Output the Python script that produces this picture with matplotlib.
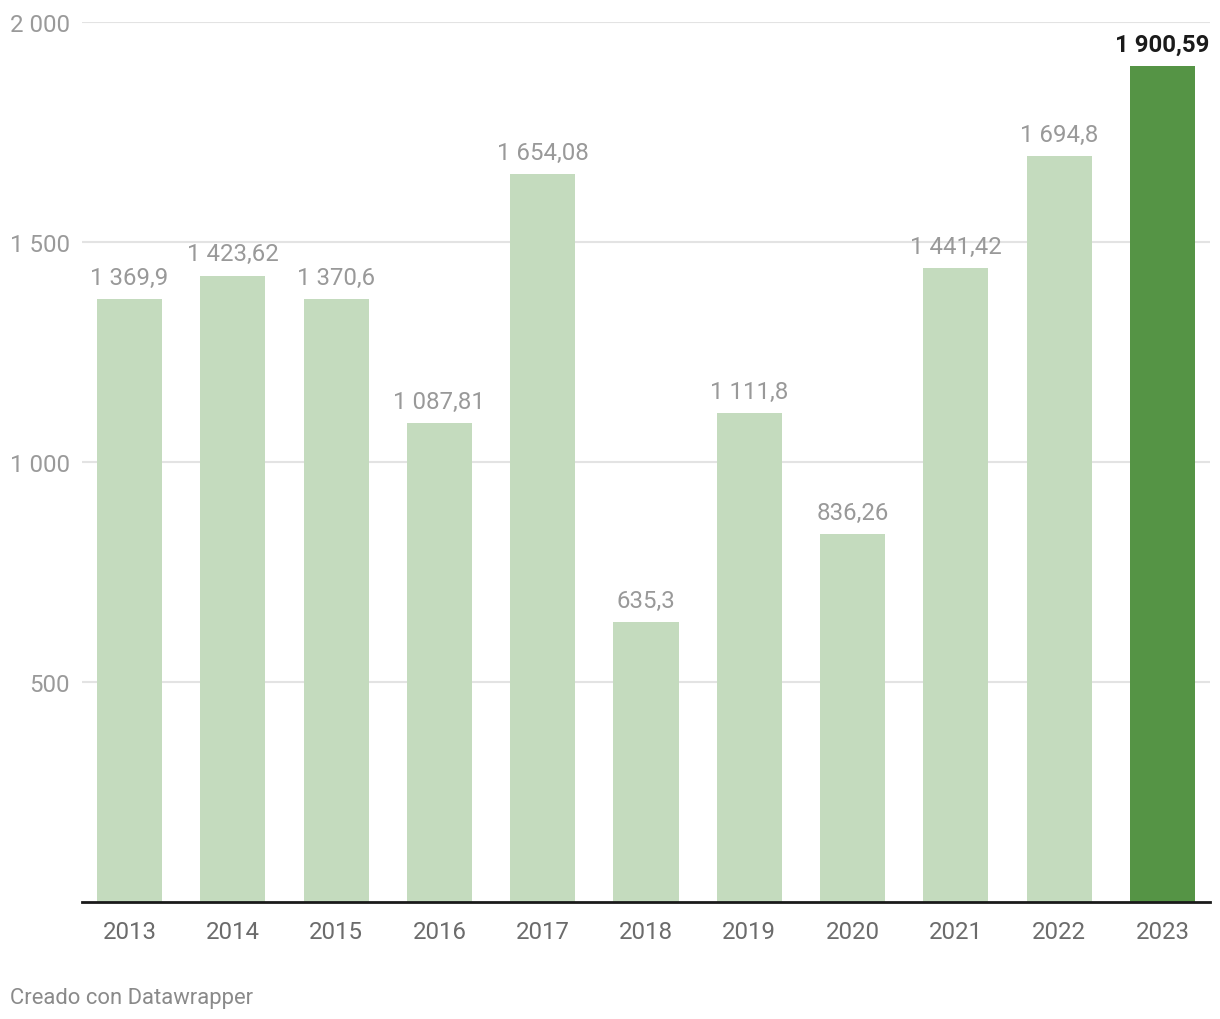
import matplotlib.pyplot as plt
from matplotlib.ticker import FuncFormatter

plt.rcParams['font.family'] = ['Roboto', 'DejaVu Sans']

years = ['2013', '2014', '2015', '2016', '2017', '2018', '2019', '2020', '2021', '2022', '2023']
values = [1369.9, 1423.62, 1370.6, 1087.81, 1654.08, 635.3, 1111.8, 836.26, 1441.42, 1694.8, 1900.59]
labels = ['1 369,9', '1 423,62', '1 370,6', '1 087,81', '1 654,08', '635,3',
          '1 111,8', '836,26', '1 441,42', '1 694,8', '1 900,59']
yticks = [500, 1000, 1500, 2000]

light = '#c4dbbe'
dark = '#559445'

fig = plt.figure(figsize=(12.2, 10.2), dpi=100)
ax = fig.add_axes([82/1220, 1 - 903/1020, 1128/1220, 880/1020])

x = list(range(len(years)))
colors = [light] * (len(years) - 1) + [dark]
ax.bar(x, values, width=0.63, color=colors, zorder=2)

for i, (v, lab) in enumerate(zip(values, labels)):
    last = i == len(values) - 1
    ax.annotate(lab, (i, v), xytext=(0, 11), textcoords='offset points',
                ha='center', va='baseline', fontsize=17.3,
                color='#1a1a1a' if last else '#999999',
                fontweight='bold' if last else 'normal')

ax.set_xlim(-0.46, 10.46)
ax.set_ylim(0, 2000)
ax.set_xticks(x)
ax.set_xticklabels(years)
ax.set_yticks(yticks)
ax.yaxis.set_major_formatter(FuncFormatter(lambda v, p: f'{int(v):,}'.replace(',', ' ')))
ax.grid(axis='y', color='#e3e3e3', linewidth=1.5, zorder=0)
ax.tick_params(axis='x', length=0, pad=13, labelsize=17.3, labelcolor='#6b6b6b')
ax.tick_params(axis='y', length=0, pad=9, labelsize=17.3, labelcolor='#9a9a9a')

for s in ['top', 'right', 'left']:
    ax.spines[s].set_visible(False)
ax.spines['bottom'].set_color('#1a1a1a')
ax.spines['bottom'].set_linewidth(2)
ax.spines['bottom'].set_zorder(3)

fig.text(10/1220, 1 - 1004/1020, 'Creado con Datawrapper', fontsize=15.8,
         color='#8a8a8a', ha='left', va='baseline')

fig.savefig('out.png', dpi=100)
